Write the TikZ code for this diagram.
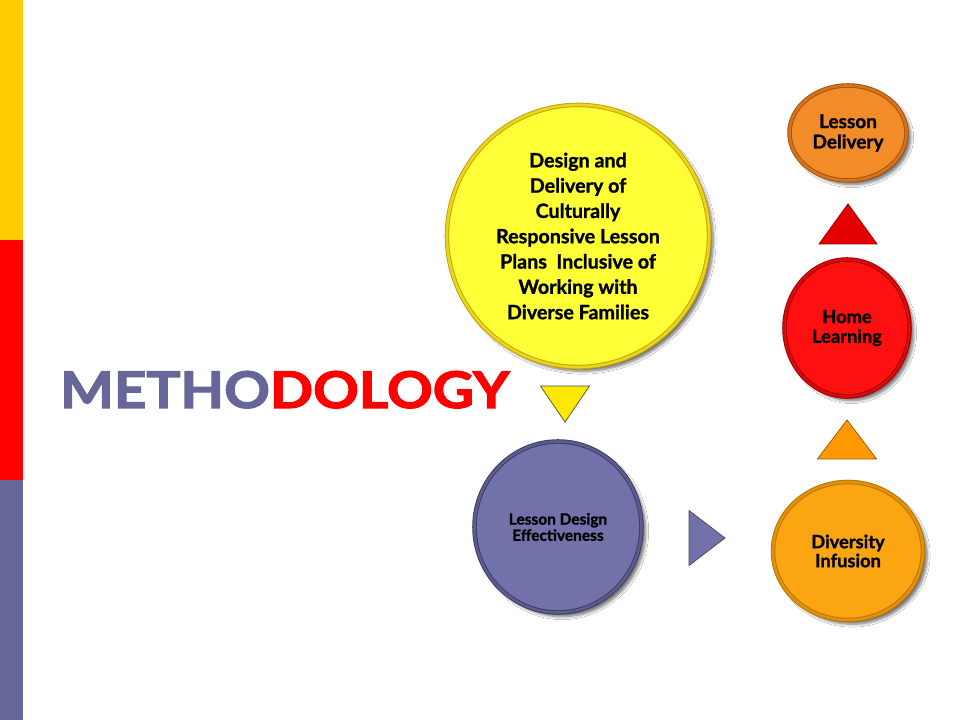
\documentclass[tikz,border=0pt]{standalone}
\usepackage{fontspec}
\setmainfont{Lato}[BoldFeatures={FakeBold=1.2}]
\newfontfamily\headfont{Lato}[BoldFeatures={FakeBold=2.2}]
\usetikzlibrary{shapes.geometric, shadows.blur, backgrounds}

\definecolor{slate}{HTML}{666699}
\definecolor{barYellow}{HTML}{FFCC00}
\definecolor{barRed}{HTML}{FF0000}
\definecolor{planFill}{HTML}{FFFF38}
\definecolor{planRim}{HTML}{C9A200}
\definecolor{delivFill}{HTML}{F28C28}
\definecolor{delivRim}{HTML}{A8520C}
\definecolor{homeFill}{HTML}{FF1010}
\definecolor{homeRim}{HTML}{A00000}
\definecolor{diverFill}{HTML}{FCA512}
\definecolor{diverRim}{HTML}{B87400}
\definecolor{effFill}{HTML}{7272AA}
\definecolor{effRim}{HTML}{3C3C66}

\begin{document}
\begin{tikzpicture}[
    x=0.025cm, y=0.025cm,
    stage/.style={ellipse, inner sep=0pt, align=center, text=black, line width=0.7pt,
        double distance=1.8pt, blur shadow={shadow xshift=3pt, shadow yshift=-3pt, shadow blur steps=6, shadow opacity=55}},
    marker/.style={isosceles triangle, isosceles triangle stretches, inner sep=0pt, line width=0.5pt},
    title/.style={inner sep=0pt, anchor=base west, font=\headfont\bfseries\fontsize{36}{40}\selectfont}
]
\useasboundingbox[fill=white] (0,0) rectangle (960,-720);

% Side bar
\fill[barYellow] (0,0) rectangle (23,-240);
\fill[barRed] (0,-240) rectangle (23,-480);
\fill[slate] (0,-480) rectangle (23,-720);

% Title
\node[title] (head) at (60,-408) {\scalebox{1.12}[1]{\textcolor{slate}{METHO}\textcolor{barRed}{DOLOGY}}};

% Circles
\node[stage, fill=planFill, draw=planRim, double=planFill!55!planRim, minimum width=6.55cm, minimum height=6.55cm,
    font=\bfseries\fontsize{14}{18}\selectfont] (plans) at (578,-236)
    {Design and\\Delivery of\\Culturally\\Responsive Lesson\\Plans\ \ Inclusive of\\Working with\\Diverse Families};
\node[stage, fill=delivFill, draw=delivRim, double=delivFill!60!delivRim, minimum width=2.925cm, minimum height=2.375cm,
    font=\bfseries\fontsize{13.5}{14.5}\selectfont] (deliv) at (848,-133) {Lesson\\Delivery};
\node[stage, fill=homeFill, draw=homeRim, double=homeFill!60!homeRim, minimum width=3.125cm, minimum height=3.425cm,
    font=\bfseries\fontsize{13}{14}\selectfont] (home) at (847,-328) {Home\\Learning};
\node[stage, fill=diverFill, draw=diverRim, double=diverFill!60!diverRim, minimum width=3.75cm, minimum height=3.45cm,
    font=\bfseries\fontsize{13}{13.5}\selectfont] (diver) at (848,-551) {Diversity\\Infusion};
\node[stage, fill=effFill, draw=effRim, double=effFill!60!effRim, minimum width=4.175cm, minimum height=4.275cm,
    font=\bfseries\fontsize{11}{11.5}\selectfont] (eff) at (558,-527) {Lesson Design\\Effectiveness};

% Rule behind the circles
\coordinate (ruleStart) at (48,-152);
\begin{scope}[on background layer]
\draw[slate, line width=0.8pt] (ruleStart) -- (ruleStart -| deliv.west);
\end{scope}

% Triangles
\node[marker, fill=red!90!black, draw=red!60!black, shape border rotate=90, anchor=apex,
    minimum height=1cm, minimum width=1.45cm] (upRed) at (848,-203) {};
\node[marker, fill=orange!80!yellow, draw=orange!60!black, shape border rotate=90, anchor=apex,
    minimum height=0.975cm, minimum width=1.475cm] (upOrange) at (847,-419) {};
\node[marker, fill=yellow!90!orange, draw=black!70, shape border rotate=-90, anchor=apex,
    minimum height=0.9cm, minimum width=1.225cm] (downYellow) at (565,-423) {};
\node[marker, fill=effFill, draw=black!70, anchor=apex,
    minimum height=0.9cm, minimum width=1.375cm] (rightSlate) at (726,-538) {};

\end{tikzpicture}
\end{document}
